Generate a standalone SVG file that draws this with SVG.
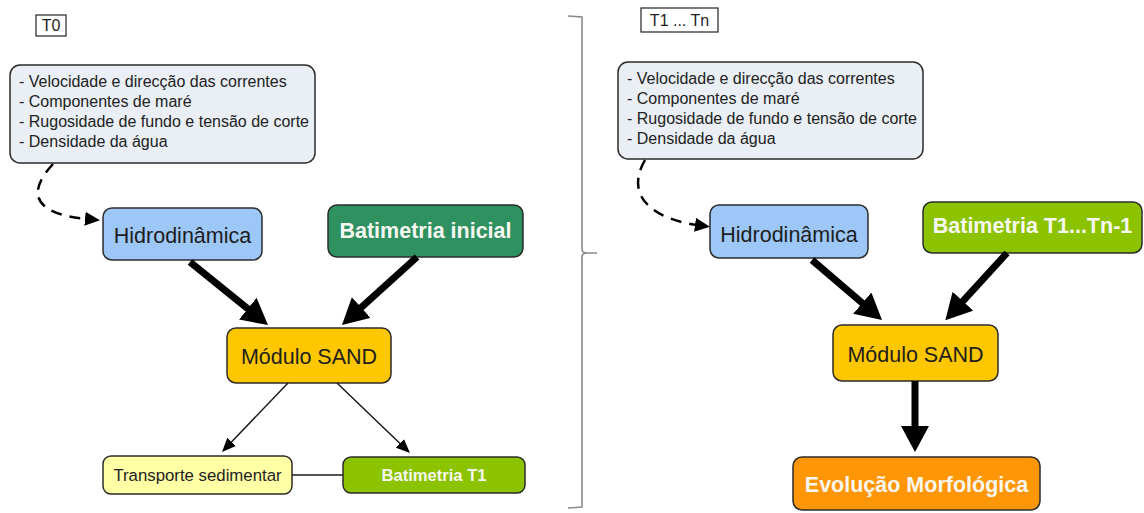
<svg xmlns="http://www.w3.org/2000/svg" width="1144" height="513" viewBox="0 0 1144 513">
<style>
  .bg { fill: #ffffff; }
  .node { stroke: #2b2b2b; stroke-width: 1.5; }
  .info { fill: #e9eff4; }
  .hydro { fill: #9cc7f6; }
  .batini { fill: #2f9160; }
  .sand { fill: #ffc700; }
  .transp { fill: #ffffa6; }
  .batg { fill: #8cc300; }
  .evol { fill: #ff9605; }
  .tag { fill: none; stroke: #222; stroke-width: 1.2; }
  text { font-family: "Liberation Sans", Arial, sans-serif; }
  .t16 { font-size: 16px; fill: #222; }
  .lab { font-size: 21.5px; fill: #1e1e1e; text-anchor: middle; }
  .labw { font-size: 21.5px; fill: #f7f7f2; font-weight: bold; text-anchor: middle; }
  .sm { font-size: 16.8px; fill: #1e1e1e; text-anchor: middle; }
  .smw { font-size: 16.6px; fill: #f7f7f2; font-weight: bold; text-anchor: middle; }
  .thick { stroke: #000; stroke-width: 7; fill: none; }
  .thin { stroke: #1a1a1a; stroke-width: 1.5; fill: none; }
  .dash { stroke: #000; stroke-width: 2.5; fill: none; stroke-dasharray: 11 8; }
  .brace { stroke: #8a8a8a; stroke-width: 1.6; fill: none; }
</style>
<defs>
  <marker id="bigHead" markerUnits="userSpaceOnUse" markerWidth="26" markerHeight="28" refX="4" refY="14" orient="auto" viewBox="0 0 26 28">
    <path d="M0,0 L26,14 L0,28 z" fill="#000"/>
  </marker>
  <marker id="thinHead" markerUnits="userSpaceOnUse" markerWidth="14" markerHeight="12" refX="2" refY="6" orient="auto" viewBox="0 0 14 12">
    <path d="M0,0 L14,6 L0,12 z" fill="#000"/>
  </marker>
  <marker id="dashHead" markerUnits="userSpaceOnUse" markerWidth="15" markerHeight="14" refX="2" refY="7" orient="auto" viewBox="0 0 15 14">
    <path d="M0,0 L15,7 L0,14 z" fill="#000"/>
  </marker>
</defs>
<rect class="bg" x="0" y="0" width="1144" height="513"/>

<!-- Left panel -->
<g id="tag-t0">
  <rect class="tag" x="36" y="15" width="30" height="21"/>
  <text class="t16" x="51" y="31" text-anchor="middle">T0</text>
</g>
<g id="info-left">
  <rect class="node info" x="10" y="65" width="305" height="98" rx="10"/>
  <text class="t16" x="19" y="87">- Velocidade e direcção das correntes</text>
  <text class="t16" x="19" y="107">- Componentes de maré</text>
  <text class="t16" x="19" y="127">- Rugosidade de fundo e tensão de corte</text>
  <text class="t16" x="19" y="147">- Densidade da água</text>
</g>
<g id="hidro-left">
  <rect class="node hydro" x="103" y="208" width="159" height="52" rx="9"/>
  <text class="lab" x="182.5" y="243">Hidrodinâmica</text>
</g>
<g id="bat-inicial">
  <rect class="node batini" x="328" y="205" width="195" height="52" rx="9"/>
  <text class="labw" x="425.5" y="238">Batimetria inicial</text>
</g>
<g id="sand-left">
  <rect class="node sand" x="227" y="328" width="164" height="55" rx="9"/>
  <text class="lab" x="309" y="364">Módulo SAND</text>
</g>
<g id="transporte">
  <rect class="node transp" x="103" y="456" width="189" height="38" rx="8"/>
  <text class="sm" x="197.5" y="481">Transporte sedimentar</text>
</g>
<g id="bat-t1">
  <rect class="node batg" x="343" y="457" width="182" height="36" rx="8"/>
  <text class="smw" x="434" y="481">Batimetria T1</text>
</g>

<!-- Right panel -->
<g id="tag-t1tn">
  <rect class="tag" x="641" y="8" width="77" height="24"/>
  <text class="t16" x="679.5" y="26" text-anchor="middle">T1 ... Tn</text>
</g>
<g id="info-right">
  <rect class="node info" x="618" y="62" width="305" height="97" rx="10"/>
  <text class="t16" x="627" y="84">- Velocidade e direcção das correntes</text>
  <text class="t16" x="627" y="104">- Componentes de maré</text>
  <text class="t16" x="627" y="124">- Rugosidade de fundo e tensão de corte</text>
  <text class="t16" x="627" y="144">- Densidade da água</text>
</g>
<g id="hidro-right">
  <rect class="node hydro" x="710" y="205" width="158" height="53" rx="9"/>
  <text class="lab" x="789" y="242">Hidrodinâmica</text>
</g>
<g id="bat-t1tn1">
  <rect class="node batg" x="923" y="202" width="219" height="51" rx="9"/>
  <text class="labw" x="1032.5" y="233">Batimetria T1...Tn-1</text>
</g>
<g id="sand-right">
  <rect class="node sand" x="833" y="325" width="165" height="56" rx="9"/>
  <text class="lab" x="915.5" y="362">Módulo SAND</text>
</g>
<g id="evolucao">
  <rect class="node evol" x="793" y="457" width="247" height="53" rx="9"/>
  <text class="labw" x="916.5" y="492">Evolução Morfológica</text>
</g>

<!-- Brace separator -->
<g id="brace">
  <path class="brace" d="M568,16 L582,17 L582,249 Q582,253 587,253 L597,253 M587,253 Q582,253 582,257 L582,507 L568,508"/>
</g>

<!-- Connectors -->
<g id="connectors">
  <path class="dash" d="M53,164 C20,200 45,215 87,219" marker-end="url(#dashHead)"/>
  <line class="thick" x1="190" y1="262" x2="250.9" y2="311.2" marker-end="url(#bigHead)"/>
  <line class="thick" x1="417" y1="257" x2="358.3" y2="310.2" marker-end="url(#bigHead)"/>
  <line class="thin" x1="288" y1="383" x2="230.3" y2="443.3" marker-end="url(#thinHead)"/>
  <line class="thin" x1="337" y1="383" x2="401.3" y2="444.7" marker-end="url(#thinHead)"/>
  <line class="thin" x1="292" y1="475" x2="343" y2="475"/>

  <path class="dash" d="M645,160 C622,200 660,220 697,225" marker-end="url(#dashHead)"/>
  <line class="thick" x1="812" y1="260" x2="865.3" y2="305.7" marker-end="url(#bigHead)"/>
  <line class="thick" x1="1007" y1="253" x2="960.2" y2="304.1" marker-end="url(#bigHead)"/>
  <line class="thick" x1="915" y1="381" x2="915" y2="430" marker-end="url(#bigHead)"/>
</g>
</svg>
